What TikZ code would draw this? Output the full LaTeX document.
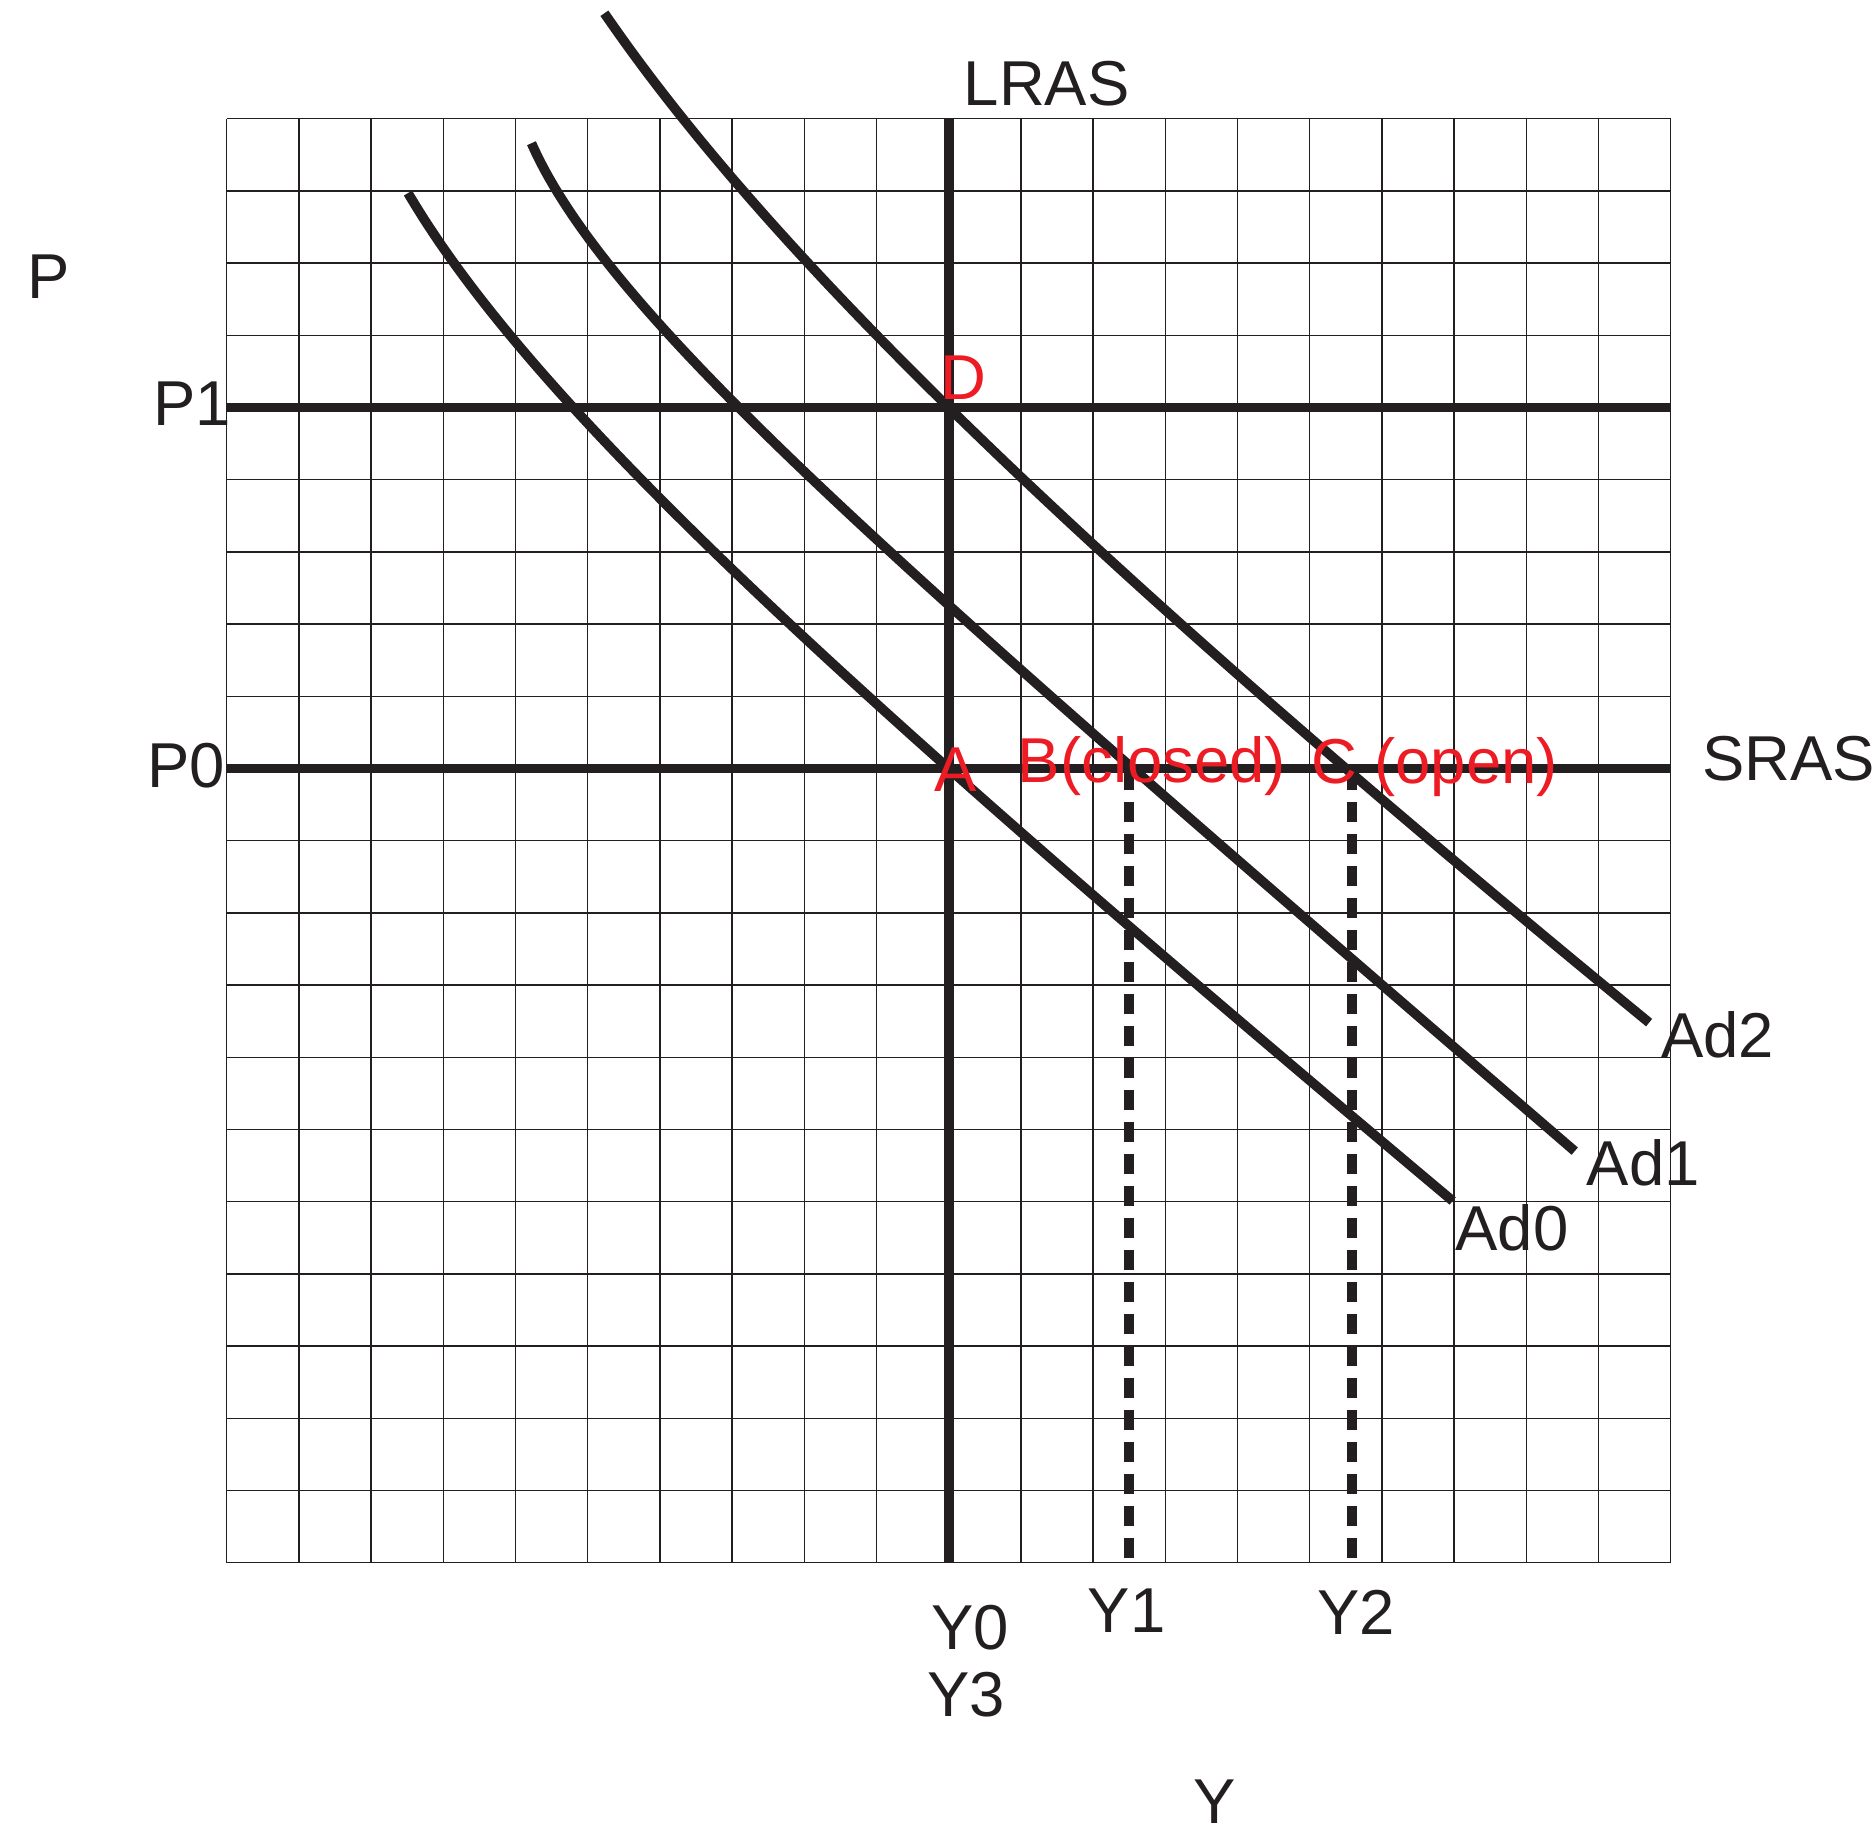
\documentclass[tikz,border=0pt]{standalone}
\usepackage{fontspec}
\setmainfont{Liberation Sans}
\definecolor{ink}{HTML}{231F20}
\definecolor{redlab}{HTML}{ED1C24}
\tikzset{
  gridline/.style={ink, line width=0.55pt},
  heavy/.style={ink, line width=3.8pt},
  adcurve/.style={ink, line width=3.8pt, line cap=butt, line join=round},
  dropline/.style={ink, line width=3.9pt, dash pattern=on 7.9pt off 4.7pt, dash phase=10.6pt},
  lab/.style={text=ink, inner sep=0pt, font=\fontsize{25}{30}\selectfont},
  ptlab/.style={text=redlab, inner sep=0pt, font=\fontsize{25}{30}\selectfont},
}
\begin{document}
\begin{tikzpicture}[x=1cm,y=1cm]
\useasboundingbox (-3.141,-3.728) rectangle (22.787,21.644);
% grid
\draw[gridline] (0,0) grid (20,20);
% key points
\coordinate (A) at (10,11);
\coordinate (B) at (12.5,11);
\coordinate (C) at (15.58,11);
\coordinate (D) at (10,16);
\coordinate (Y1b) at (12.5,0);
\coordinate (Y2b) at (15.58,0);
% LRAS and price lines
\draw[heavy] (10,0) -- (10,20);
\draw[heavy] (0,16) -- (20,16);
\draw[heavy] (0,11) -- (20,11);
% dashed drop lines
\draw[dropline] (Y1b) -- (B);
\draw[dropline] (Y2b) -- (C);
% AD curves
\draw[adcurve] plot[domain=0:13.96, samples=120, variable=\u, smooth]
  ({2.51+1.2095*\u-2.491*(1-exp(-\u/4))}, {18.97-\u});
\draw[adcurve] plot[domain=0:13.96, samples=120, variable=\u, smooth]
  ({4.22+1.1642*\u-1.809*(1-exp(-\u/2.5))}, {19.66-\u});
\draw[adcurve] plot[domain=0:13.98, samples=120, variable=\u, smooth]
  ({5.23+1.3022*\u-4.321*(1-exp(-\u/7))}, {21.46-\u});
% labels
\node[lab, anchor=base west] (lP) at (-2.77,17.51) {P};
\node[lab, anchor=base west] (lP1) at (-1.02,15.75) {P1};
\node[lab, anchor=base west] (lP0) at (-1.11,10.74) {P0};
\node[lab, anchor=base west] (lLRAS) at (10.20,20.18) {LRAS};
\node[lab, anchor=base west] (lSRAS) at (20.43,10.83) {SRAS};
\node[lab, anchor=base west] (lAd2) at (19.86,7.0) {Ad2};
\node[lab, anchor=base west] (lAd1) at (18.83,5.22) {Ad1};
\node[lab, anchor=base west] (lAd0) at (17.01,4.32) {Ad0};
\node[lab, anchor=base west] (lY0) at (9.75,-1.20) {Y0};
\node[lab, anchor=base west] (lY3) at (9.70,-2.13) {Y3};
\node[lab, anchor=base west] (lY1) at (11.92,-0.96) {Y1};
\node[lab, anchor=base west] (lY2) at (15.1,-1.0) {Y2};
\node[lab, anchor=base west] (lY) at (13.38,-3.61) {Y};
\node[ptlab, anchor=base west] (lD) at (9.88,16.11) {D};
\node[ptlab, anchor=base west] (lA) at (9.79,10.68) {A};
\node[ptlab, anchor=base west] (lB) at (10.95,10.80) {B(closed)};
\node[ptlab, anchor=base west] (lC) at (15.01,10.79) {C (open)};
\end{tikzpicture}
\end{document}
